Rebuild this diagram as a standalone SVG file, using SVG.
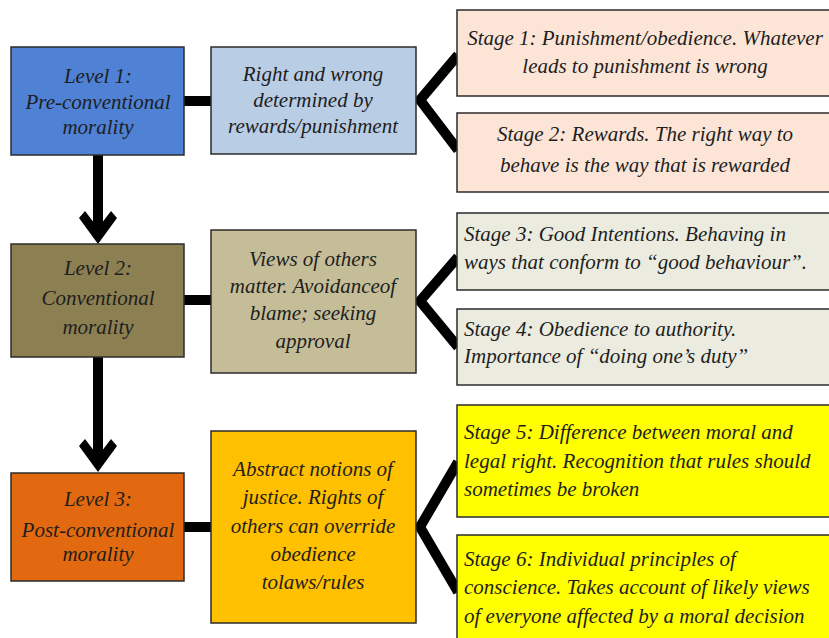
<svg xmlns="http://www.w3.org/2000/svg" width="829" height="638" viewBox="0 0 829 638">
<style>
.box{stroke:#2b2b2b;stroke-width:1.5}
text{font-family:"Liberation Serif","Times New Roman",serif;font-style:italic;fill:#1e1e1e;font-size:21px}
.c{text-anchor:middle}
.conn{stroke:#000;stroke-width:10;fill:none;stroke-linejoin:miter}
.head{fill:#000}
</style>
<rect width="829" height="638" fill="#fff"/>
<g id="connectors">
<line class="conn" x1="184" y1="101" x2="211" y2="101"/>
<line class="conn" x1="184" y1="300" x2="211" y2="300"/>
<line class="conn" x1="184" y1="527" x2="211" y2="527"/>
<polyline class="conn" points="458,55 420,100 458,150"/>
<polyline class="conn" points="458,257 420,301 458,347"/>
<polyline class="conn" points="458,462 420,527 458,592"/>
<line class="conn" x1="98" y1="155" x2="98" y2="232"/>
<polygon class="head" points="98,244 79,218 85,211 98,228 111,211 117,218"/>
<line class="conn" x1="98" y1="357" x2="98" y2="460"/>
<polygon class="head" points="98,472 79,446 85,439 98,456 111,439 117,446"/>
</g>
<g id="level1">
<rect class="box" x="11" y="47" width="173" height="108" fill="#4f81d4"/>
<text class="c" x="98" y="83">Level 1:</text>
<text class="c" x="98" y="109">Pre-conventional</text>
<text class="c" x="98" y="134">morality</text>
</g>
<g id="desc1">
<rect class="box" x="211" y="47" width="205" height="107" fill="#b9cde5"/>
<text class="c" x="313" y="81">Right and wrong</text>
<text class="c" x="313" y="107">determined by</text>
<text class="c" x="313" y="133">rewards/punishment</text>
</g>
<g id="stage1">
<rect class="box" x="457" y="10" width="380" height="86" fill="#fce5d6"/>
<text class="c" x="645" y="45">Stage 1: Punishment/obedience. Whatever</text>
<text class="c" x="645" y="73">leads to punishment is wrong</text>
</g>
<g id="stage2">
<rect class="box" x="457" y="113" width="380" height="79" fill="#fce5d6"/>
<text class="c" x="645" y="141">Stage 2: Rewards. The right way to</text>
<text class="c" x="645" y="172">behave is the way that is rewarded</text>
</g>
<g id="level2">
<rect class="box" x="11" y="244" width="173" height="113" fill="#8c7f52"/>
<text class="c" x="98" y="275">Level 2:</text>
<text class="c" x="98" y="305">Conventional</text>
<text class="c" x="98" y="334">morality</text>
</g>
<g id="desc2">
<rect class="box" x="211" y="230" width="205" height="143" fill="#c5bd98"/>
<text class="c" x="313" y="266">Views of others</text>
<text class="c" x="313" y="293">matter. Avoidanceof</text>
<text class="c" x="313" y="320">blame; seeking</text>
<text class="c" x="313" y="348">approval</text>
</g>
<g id="stage3">
<rect class="box" x="457" y="213" width="380" height="77" fill="#ebecdf"/>
<text x="464" y="241">Stage 3: Good Intentions. Behaving in</text>
<text x="464" y="269">ways that conform to “good behaviour”.</text>
</g>
<g id="stage4">
<rect class="box" x="457" y="309" width="380" height="76" fill="#ebecdf"/>
<text x="464" y="336">Stage 4: Obedience to authority.</text>
<text x="464" y="363">Importance of “doing one’s duty”</text>
</g>
<g id="level3">
<rect class="box" x="11" y="473" width="173" height="108" fill="#e2690f"/>
<text class="c" x="98" y="506">Level 3:</text>
<text class="c" x="98" y="537">Post-conventional</text>
<text class="c" x="98" y="561">morality</text>
</g>
<g id="desc3">
<rect class="box" x="211" y="431" width="205" height="192" fill="#ffc000"/>
<text class="c" x="313" y="476">Abstract notions of</text>
<text class="c" x="313" y="504">justice. Rights of</text>
<text class="c" x="313" y="533">others can override</text>
<text class="c" x="313" y="561">obedience</text>
<text class="c" x="313" y="589">tolaws/rules</text>
</g>
<g id="stage5">
<rect class="box" x="457" y="405" width="380" height="112" fill="#ffff00"/>
<text x="464" y="439">Stage 5: Difference between moral and</text>
<text x="464" y="468">legal right. Recognition that rules should</text>
<text x="464" y="496">sometimes be broken</text>
</g>
<g id="stage6">
<rect class="box" x="457" y="535" width="380" height="110" fill="#ffff00"/>
<text x="464" y="566">Stage 6: Individual principles of</text>
<text x="464" y="594">conscience. Takes account of likely views</text>
<text x="464" y="623">of everyone affected by a moral decision</text>
</g>
</svg>
